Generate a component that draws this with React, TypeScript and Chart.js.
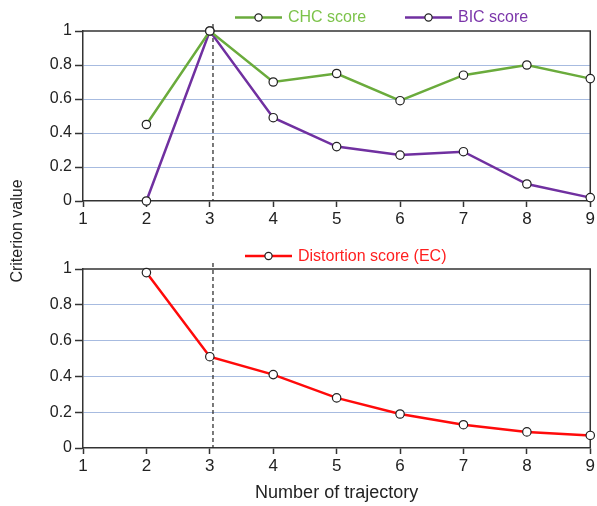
import React, { useEffect, useRef } from "react";
import { Chart, registerables } from "chart.js";

Chart.register(...registerables);

const FONT = "'Liberation Sans', Arial, Helvetica, sans-serif";

// ---- data ----
const trajectoryCounts = [2, 3, 4, 5, 6, 7, 8, 9];
const chcScores = [0.45, 1.0, 0.7, 0.75, 0.59, 0.74, 0.8, 0.72];
const bicScores = [0.0, 1.0, 0.49, 0.32, 0.27, 0.29, 0.1, 0.02];
const distortionScores = [0.98, 0.51, 0.41, 0.28, 0.19, 0.13, 0.09, 0.07];
const xTickValues = [1, 2, 3, 4, 5, 6, 7, 8, 9];
const yTickValues = [0, 0.2, 0.4, 0.6, 0.8, 1];
const yTickLabels = ["0", "0.2", "0.4", "0.6", "0.8", "1"];
const optimalK = 3.05;

const GREEN = "#6aab3c";
const GREEN_TEXT = "#7cc34a";
const PURPLE = "#7030a0";
const PURPLE_TEXT = "#7b35aa";
const RED = "#ff0a0a";
const RED_TEXT = "#ff1f1f";
const GRID = "#a7bbe0";
const AXIS = "#333333";

type LegendItem = { label: string; color: string; textColor: string; x: number; y: number };

function decorPlugin(legendItems: LegendItem[], overhang: number) {
  return {
    id: "decor",
    beforeDatasetsDraw(chart: any) {
      const { ctx, chartArea, scales } = chart;
      const { left, right, top, bottom } = chartArea;
      ctx.save();
      ctx.strokeStyle = AXIS;
      ctx.lineWidth = 1.5;
      ctx.beginPath();
      ctx.moveTo(left, top);
      ctx.lineTo(right, top);
      ctx.lineTo(right, bottom);
      ctx.stroke();
      const px = scales.x.getPixelForValue(optimalK);
      ctx.setLineDash([4, 3]);
      ctx.lineWidth = 1.2;
      ctx.strokeStyle = "#222";
      ctx.beginPath();
      ctx.moveTo(px, top - overhang);
      ctx.lineTo(px, bottom);
      ctx.stroke();
      ctx.restore();
    },
    afterDraw(chart: any) {
      const { ctx } = chart;
      ctx.save();
      for (const it of legendItems) {
        ctx.strokeStyle = it.color;
        ctx.lineWidth = 2.5;
        ctx.beginPath();
        ctx.moveTo(it.x, it.y);
        ctx.lineTo(it.x + 47, it.y);
        ctx.stroke();
        ctx.beginPath();
        ctx.arc(it.x + 23.5, it.y, 3.6, 0, Math.PI * 2);
        ctx.fillStyle = "#fff";
        ctx.fill();
        ctx.lineWidth = 1.2;
        ctx.strokeStyle = "#222";
        ctx.stroke();
        ctx.fillStyle = it.textColor;
        ctx.font = `16px ${FONT}`;
        ctx.textBaseline = "middle";
        ctx.textAlign = "left";
        ctx.fillText(it.label, it.x + 53, it.y + 0.5);
      }
      ctx.restore();
    },
  };
}

function baseScales(xHeight: number, withTitle: boolean) {
  return {
    x: {
      type: "linear" as const,
      min: 1,
      max: 9,
      afterBuildTicks: (s: any) => {
        s.ticks = xTickValues.map((v) => ({ value: v }));
      },
      ticks: { font: { family: FONT, size: 17 }, color: "#222", padding: 2 },
      grid: { drawOnChartArea: false, tickLength: 6, tickColor: AXIS, tickWidth: 1.5 },
      border: { color: AXIS, width: 1.5 },
      title: {
        display: withTitle,
        text: "Number of trajectory",
        font: { family: FONT, size: 18 },
        color: "#222",
        padding: { top: 0, bottom: 2 },
      },
      afterFit: (s: any) => {
        s.height = xHeight;
      },
    },
    y: {
      min: 0,
      max: 1,
      afterBuildTicks: (s: any) => {
        s.ticks = yTickValues.map((v) => ({ value: v }));
      },
      ticks: {
        font: { family: FONT, size: 16 },
        color: "#222",
        padding: 3,
        callback: (_v: any, i: number) => yTickLabels[i],
      },
      grid: {
        color: (c: any) =>
          c.tick && (c.tick.value === 0 || c.tick.value === 1) ? "rgba(0,0,0,0)" : GRID,
        lineWidth: 1,
        tickLength: 8,
        tickColor: AXIS,
        tickWidth: 1.5,
      },
      border: { color: AXIS, width: 1.5 },
      afterFit: (s: any) => {
        s.width = 83;
      },
    },
  };
}

function series(label: string, values: number[], color: string) {
  return {
    label,
    data: trajectoryCounts.map((x, i) => ({ x, y: values[i] })),
    borderColor: color,
    borderWidth: 2.5,
    tension: 0,
    pointRadius: 4.2,
    pointBackgroundColor: "#fff",
    pointBorderColor: "#222",
    pointBorderWidth: 1.2,
    clip: false as const,
  };
}

export default function App() {
  const topRef = useRef<HTMLCanvasElement | null>(null);
  const botRef = useRef<HTMLCanvasElement | null>(null);

  useEffect(() => {
    const top = new Chart(topRef.current!, {
      type: "line",
      data: {
        datasets: [series("CHC score", chcScores, GREEN), series("BIC score", bicScores, PURPLE)],
      },
      options: {
        responsive: true,
        maintainAspectRatio: false,
        animation: false,
        layout: { padding: { top: 31, right: 6, left: 0, bottom: 0 } },
        plugins: { legend: { display: false }, tooltip: { enabled: false } },
        scales: baseScales(34, false) as any,
      },
      plugins: [
        decorPlugin(
          [
            { label: "CHC score", color: GREEN, textColor: GREEN_TEXT, x: 235, y: 17.5 },
            { label: "BIC score", color: PURPLE, textColor: PURPLE_TEXT, x: 405, y: 17.5 },
          ],
          7
        ),
      ],
    });
    const bot = new Chart(botRef.current!, {
      type: "line",
      data: {
        datasets: [series("Distortion score (EC)", distortionScores, RED)],
      },
      options: {
        responsive: true,
        maintainAspectRatio: false,
        animation: false,
        layout: { padding: { top: 34, right: 6, left: 0, bottom: 0 } },
        plugins: { legend: { display: false }, tooltip: { enabled: false } },
        scales: baseScales(58, true) as any,
      },
      plugins: [
        decorPlugin(
          [{ label: "Distortion score (EC)", color: RED, textColor: RED_TEXT, x: 245, y: 21 }],
          6
        ),
      ],
    });
    return () => {
      top.destroy();
      bot.destroy();
    };
  }, []);

  return (
    <div style={{ position: "absolute", left: 0, top: 0, width: 597, height: 506, background: "#fff" }}>
      <div style={{ position: "absolute", left: 0, top: 0, width: 597, height: 235 }}>
        <canvas ref={topRef} />
      </div>
      <div style={{ position: "absolute", left: 0, top: 235, width: 597, height: 271 }}>
        <canvas ref={botRef} />
      </div>
      <div
        style={{
          position: "absolute",
          left: 17,
          top: 231,
          width: 200,
          textAlign: "center",
          font: `16px ${FONT}`,
          color: "#222",
          whiteSpace: "nowrap",
          transform: "translate(-50%, -50%) rotate(-90deg)",
        }}
      >
        Criterion value
      </div>
    </div>
  );
}
